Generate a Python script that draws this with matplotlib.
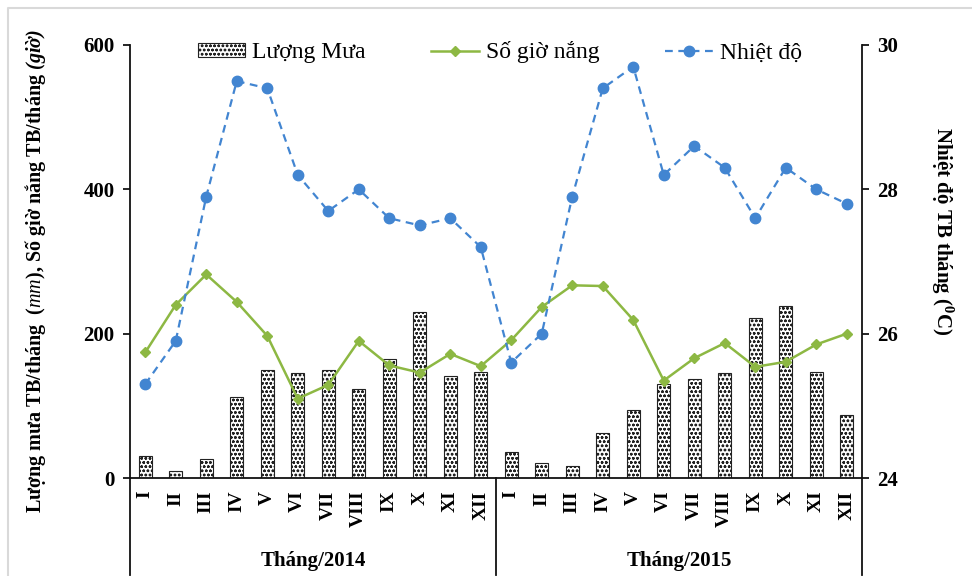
import matplotlib
matplotlib.use("Agg")
import matplotlib.pyplot as plt
import numpy as np
from matplotlib.lines import Line2D

plt.rcParams['font.family'] = ['Liberation Serif', 'DejaVu Serif']
plt.rcParams['mathtext.fontset'] = 'custom'
plt.rcParams['mathtext.rm'] = 'Liberation Serif:bold'
plt.rcParams['mathtext.it'] = 'Liberation Serif:italic'
plt.rcParams['mathtext.bf'] = 'Liberation Serif:bold:italic'
plt.rcParams['hatch.linewidth'] = 0.7

months = ["I", "II", "III", "IV", "V", "VI", "VII", "VIII", "IX", "X", "XI", "XII"]
years = ["Tháng/2014", "Tháng/2015"]

rain_2014 = [31, 10, 27, 112, 149, 145, 150, 123, 165, 230, 142, 147]
rain_2015 = [36, 21, 17, 62, 94, 130, 137, 146, 222, 238, 147, 87]
sun_2014 = [174, 240, 282, 244, 197, 110, 129, 190, 156, 146, 172, 155]
sun_2015 = [191, 237, 267, 266, 219, 135, 166, 187, 154, 161, 185, 200]
temp_2014 = [25.3, 25.9, 27.9, 29.5, 29.4, 28.2, 27.7, 28.0, 27.6, 27.5, 27.6, 27.2]
temp_2015 = [25.6, 26.0, 27.9, 29.4, 29.7, 28.2, 28.6, 28.3, 27.6, 28.3, 28.0, 27.8]

rain = rain_2014 + rain_2015
sun = sun_2014 + sun_2015
temp = temp_2014 + temp_2015
labels = months + months
x = np.arange(len(labels))

W, H = 972, 576
fig = plt.figure(figsize=(9.72, 5.76), dpi=100)
L, R, T, B = 130, 862, 45, 478
ax = fig.add_axes([L / W, 1 - B / H, (R - L) / W, (B - T) / H])
ax2 = ax.twinx()

green = '#8DB843'
blue = '#4285D1'

bars = ax.bar(x, rain, width=0.43, color='white', edgecolor='#222222', hatch='oooo',
              linewidth=0.8, label='Lượng Mưa', zorder=2)
ln1, = ax.plot(x, sun, color=green, lw=1.8, marker='D', ms=5, label='Số giờ nắng', zorder=3)
ln2, = ax2.plot(x, temp, color=blue, lw=1.6, ls=(0, (3.5, 2.5)), marker='o', ms=7.5,
                label='Nhiệt độ', zorder=3)

ax.set_xlim(-0.5, len(labels) - 0.5)
ax.set_ylim(0, 600)
ax2.set_ylim(24, 30)
ax.set_yticks([0, 200, 400, 600])
ax2.set_yticks([24, 26, 28, 30])

for a in (ax, ax2):
    a.spines['top'].set_visible(False)
ax.spines['right'].set_visible(False)
ax2.spines['left'].set_visible(False)
ax2.spines['bottom'].set_visible(False)
for a in (ax, ax2):
    for s in a.spines.values():
        s.set_linewidth(1.3)
        s.set_color('#111111')

ax.set_xticks(x)
ax.set_xticklabels(labels, rotation=90, fontsize=14, fontweight='bold')
ax.tick_params(axis='x', length=0, pad=9)
ax.tick_params(axis='y', labelsize=15, length=5, width=1.2, pad=6)
ax2.tick_params(axis='y', labelsize=15, length=5, width=1.2, pad=6)
for t in ax.get_yticklabels() + ax2.get_yticklabels():
    t.set_fontweight('bold')

ax.set_ylabel(r'Lượng mưa TB/tháng  $\mathit{(mm)}$, Số giờ nắng TB/tháng $\mathbf{(giờ)}$',
              fontsize=14.5, fontweight='bold')
ax.yaxis.set_label_coords(-0.112, 0.478)
ax2.set_ylabel(r'Nhiệt độ TB tháng ($^{0}$C)', fontsize=15, fontweight='bold', rotation=270)
ax2.yaxis.set_label_coords(1.128, 0.57)

# group separators and labels
for xp in (L, (L + R) / 2, R):
    fig.add_artist(Line2D([xp / W, xp / W], [1 - B / H, 1 - 575 / H],
                          color='#111111', lw=1.3, transform=fig.transFigure))
for i, yl in enumerate(years):
    xc = L + (R - L) * (0.25 + 0.5 * i)
    fig.text(xc / W, 1 - 561 / H, yl, ha='center', va='center', fontsize=15,
             fontweight='bold')

# light border
fig.add_artist(Line2D([8 / W, 8 / W, 1], [0, 1 - 8 / H, 1 - 8 / H], color='#d9d9d9',
                      lw=1.5, transform=fig.transFigure))

leg = ax.legend([bars, ln1, ln2], ['Lượng Mưa', 'Số giờ nắng', 'Nhiệt độ'],
                loc='center', bbox_to_anchor=(0.505, 0.983), ncol=3,
                frameon=False, fontsize=17, handlelength=2.0, handleheight=0.5,
                columnspacing=2.8, handletextpad=0.3)
leg.set_zorder(5)

fig.savefig('out.png', dpi=100)
